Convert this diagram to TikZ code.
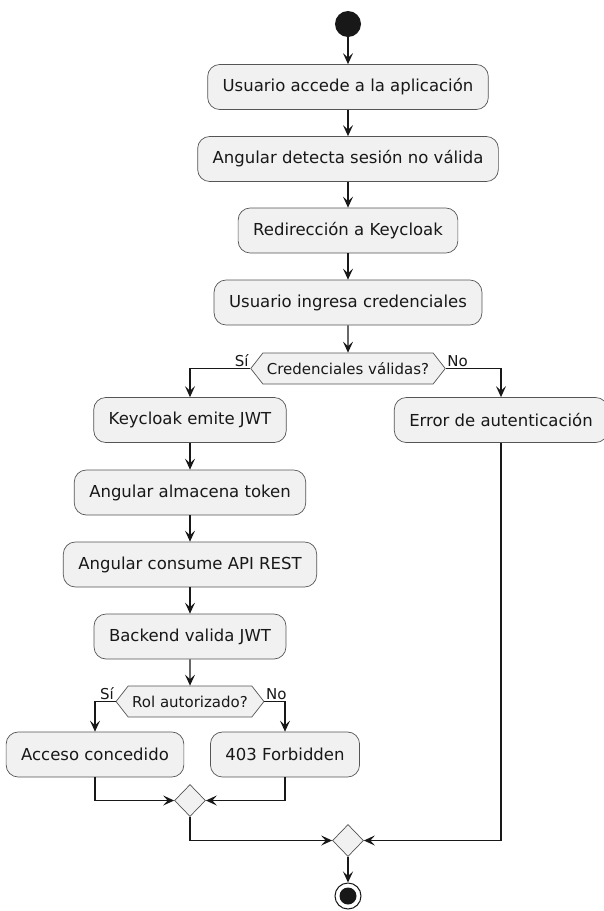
\documentclass[tikz,border=0pt]{standalone}
\usepackage{fontspec}
\setmainfont{DejaVu Sans}
\usetikzlibrary{shapes.symbols,shapes.geometric,arrows.meta,calc}
\definecolor{boxfill}{HTML}{F1F1F1}
\definecolor{lineclr}{HTML}{181818}
\definecolor{bordclr}{HTML}{555555}
\begin{document}
\begin{tikzpicture}[x=1pt,y=-1pt,
  act/.style={draw=bordclr, line width=0.7pt, fill=boxfill, rounded corners=12pt,
    minimum height=45pt, inner xsep=15pt, text=lineclr,
    font=\fontsize{16.5}{20}\selectfont},
  dec/.style={signal, signal to=east and west, signal pointer angle=104,
    draw=bordclr, line width=0.7pt, fill=boxfill, minimum height=31pt,
    inner xsep=4pt, inner ysep=2pt, text=lineclr,
    font=\fontsize{15}{18}\selectfont},
  merge/.style={diamond, draw=bordclr, line width=0.7pt, fill=boxfill,
    minimum width=31pt, minimum height=32pt, inner sep=0pt},
  lbl/.style={inner sep=1.5pt, text=lineclr, font=\fontsize{15}{18}\selectfont},
  arr/.style={draw=lineclr, line width=1.3pt,
    -{Stealth[length=11pt,width=10pt,inset=4.5pt]}}
]
\fill[white] (0,0) rectangle (603,911);
\useasboundingbox (0,0) rectangle (603,911);

\node[circle, fill=lineclr, minimum size=26pt, inner sep=0pt] (start) at (348,24) {};
\node[act] (a1) at (348,87) {Usuario accede a la aplicación};
\node[act] (a2) at (348,159) {Angular detecta sesión no válida};
\node[act] (a3) at (348,230.5) {Redirección a Keycloak};
\node[act] (a4) at (348,302.5) {Usuario ingresa credenciales};
\node[dec] (d1) at (348,368.5) {Credenciales válidas?};
\node[lbl, anchor=south east] at (d1.west) {Sí};
\node[lbl, anchor=south west] at (d1.east) {No};

\node[act] (k1) at (190,420) {Keycloak emite JWT};
\node[act] (k2) at (190,492.5) {Angular almacena token};
\node[act] (k3) at (190,564.5) {Angular consume API REST};
\node[act] (k4) at (190,636.5) {Backend valida JWT};
\node[act] (err) at (501,420) {Error de autenticación};

\node[dec] (d2) at (190,701.5) {Rol autorizado?};
\node[lbl, anchor=south east] at (d2.west) {Sí};
\node[lbl, anchor=south west] at (d2.east) {No};

\node[act] (acc) at (95,754.5) {Acceso concedido};
\node[act] (forb) at (285,754.5) {403 Forbidden};

\node[merge] (m1) at (190,800.5) {};
\node[merge] (m2) at (348,840.5) {};

\node[circle, draw=lineclr, line width=1pt, fill=white, minimum size=26pt, inner sep=0pt] (end) at (348,896) {};
\node[circle, fill=lineclr, minimum size=17pt, inner sep=0pt] (endin) at (end) {};

\draw[arr] (start) -- (a1);
\draw[arr] (a1) -- (a2);
\draw[arr] (a2) -- (a3);
\draw[arr] (a3) -- (a4);
\draw[arr] (a4) -- (d1);
\draw[arr] (d1.west) -| (k1.north);
\draw[arr] (d1.east) -| (err.north);
\draw[arr] (k1) -- (k2);
\draw[arr] (k2) -- (k3);
\draw[arr] (k3) -- (k4);
\draw[arr] (k4) -- (d2);
\draw[arr] (d2.west) -| (acc.north);
\draw[arr] (d2.east) -| (forb.north);
\draw[arr] (acc.south) |- (m1.west);
\draw[arr] (forb.south) |- (m1.east);
\draw[arr] (m1.south) |- (m2.west);
\draw[arr] (err.south) |- (m2.east);
\draw[arr] (m2) -- (end);
\end{tikzpicture}
\end{document}
